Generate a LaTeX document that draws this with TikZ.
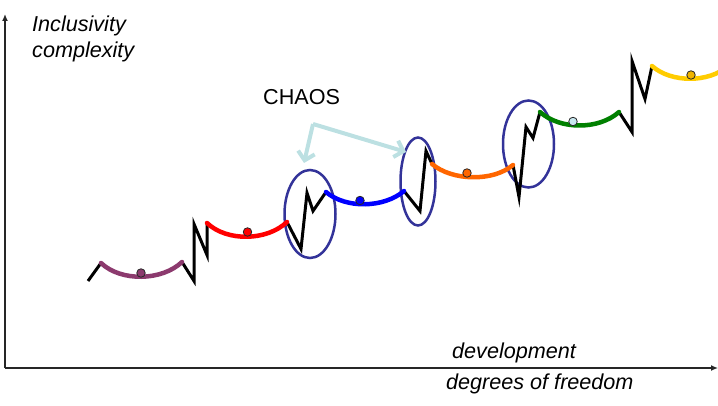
\documentclass[tikz,border=0pt]{standalone}
\usepackage{fontspec}
\setmainfont{Liberation Sans}
\usetikzlibrary{shapes.geometric,arrows.meta}
\definecolor{cpurple}{RGB}{140,58,110}
\definecolor{cred}{RGB}{255,0,0}
\definecolor{cblue}{RGB}{0,0,255}
\definecolor{corange}{RGB}{255,102,0}
\definecolor{cgreen}{RGB}{0,128,0}
\definecolor{cyellow}{RGB}{255,204,0}
\definecolor{cgold}{RGB}{240,180,0}
\definecolor{clightblue}{RGB}{200,232,240}
\definecolor{ringblue}{RGB}{51,51,153}
\definecolor{arrowteal}{RGB}{188,224,226}
\tikzset{
  arcline/.style={line width=4.5pt, line cap=round},
  zig/.style={line width=3pt, black, line join=miter},
  dot/.style={circle, draw=black!85, line width=0.8pt, minimum size=8.5pt, inner sep=0pt},
  chaosring/.style={ellipse, draw=ringblue, line width=2.5pt, inner sep=0pt},
  lbl/.style={font=\fontsize{21.6}{26}\selectfont\itshape, inner sep=0pt, anchor=base west},
  axis/.style={line width=1.3pt, black!85, -{Latex[length=7pt,width=6pt]}},
  chaosarrow/.style={line width=4pt, arrowteal, -{Straight Barb[length=8pt,width=17pt]}}
}
\begin{document}
\begin{tikzpicture}[x=1pt,y=-1pt]
\useasboundingbox (0,0) rectangle (718,406);
\clip (0,0) rectangle (718,406);
% axes
\coordinate (origin) at (5,368);
\coordinate (ytop) at (5,14);
\coordinate (xend) at (718,368);
\draw[axis] (origin) -- (ytop);
\draw[axis] (origin) -- (xend);
% labels
\node[lbl] (inc) at (32,31.5) {Inclusivity};
\node[lbl] (cmp) at (32,57.5) {complexity};
\node[lbl] (dev) at (452,358) {development};
\node[lbl] (dof) at (446,389) {degrees of freedom};
\node[font=\fontsize{21.6}{26}\selectfont, inner sep=0pt, anchor=base west] (chaos) at (263,104.5) {CHAOS};
% ellipses
\node[chaosring, minimum width=51pt, minimum height=88pt] (e1) at (310,214) {};
\node[chaosring, minimum width=35pt, minimum height=88pt] (e2) at (418,181.5) {};
\node[chaosring, minimum width=51pt, minimum height=87pt] (e3) at (528.5,144) {};
% chaos arrows
\coordinate (corner) at (313,124);
\coordinate (tip1) at (304,163);
\coordinate (tip2) at (406,152);
\draw[chaosarrow, line join=round] (corner) -- (tip1);
\draw[chaosarrow, line join=round] (corner) -- (tip2);
% arc end points
\coordinate (a1) at (101,263); \coordinate (b1) at (182,262);
\coordinate (a2) at (207,223); \coordinate (b2) at (287,222);
\coordinate (a3) at (326,192); \coordinate (b3) at (404,191);
\coordinate (a4) at (432,164); \coordinate (b4) at (513,165);
\coordinate (a5) at (540,112); \coordinate (b5) at (619,112);
\coordinate (a6) at (652,66);  \coordinate (b6) at (728,66);
% zigzags
\draw[zig] (88,281) -- (a1);
\draw[zig] (b1) -- (194,281) -- (194,224) -- (207,255) -- (a2);
\draw[zig] (b2) -- (301,249) -- (307,193) -- (313,211) -- (a3);
\draw[zig] (b3) -- (420,211) -- (426,151) -- (a4);
\draw[zig] (b4) -- (519,197) -- (526,127) -- (533,138) -- (a5);
\draw[zig] (b5) -- (632,132) -- (632,61) -- (645,99) -- (a6);
% arcs
\draw[arcline, cpurple] (a1) .. controls +(20,19) and +(-20,19) .. (b1);
\draw[arcline, cred] (a2) .. controls +(20,19) and +(-20,19) .. (b2);
\draw[arcline, cblue] (a3) .. controls +(20,17) and +(-20,17) .. (b3);
\draw[arcline, corange] (a4) .. controls +(20,17) and +(-20,17) .. (b4);
\draw[arcline, cgreen] (a5) .. controls +(20,18) and +(-20,18) .. (b5);
\draw[arcline, cyellow] (a6) .. controls +(19,17) and +(-19,17) .. (b6);
% dots
\node[dot, fill=cpurple] (d1) at (141,273) {};
\node[dot, fill=cred] (d2) at (247.5,232) {};
\node[dot, fill=cblue] (d3) at (360,200.5) {};
\node[dot, fill=corange] (d4) at (467,173) {};
\node[dot, fill=clightblue] (d5) at (573,121.5) {};
\node[dot, fill=cgold] (d6) at (691,75) {};
\end{tikzpicture}
\end{document}
